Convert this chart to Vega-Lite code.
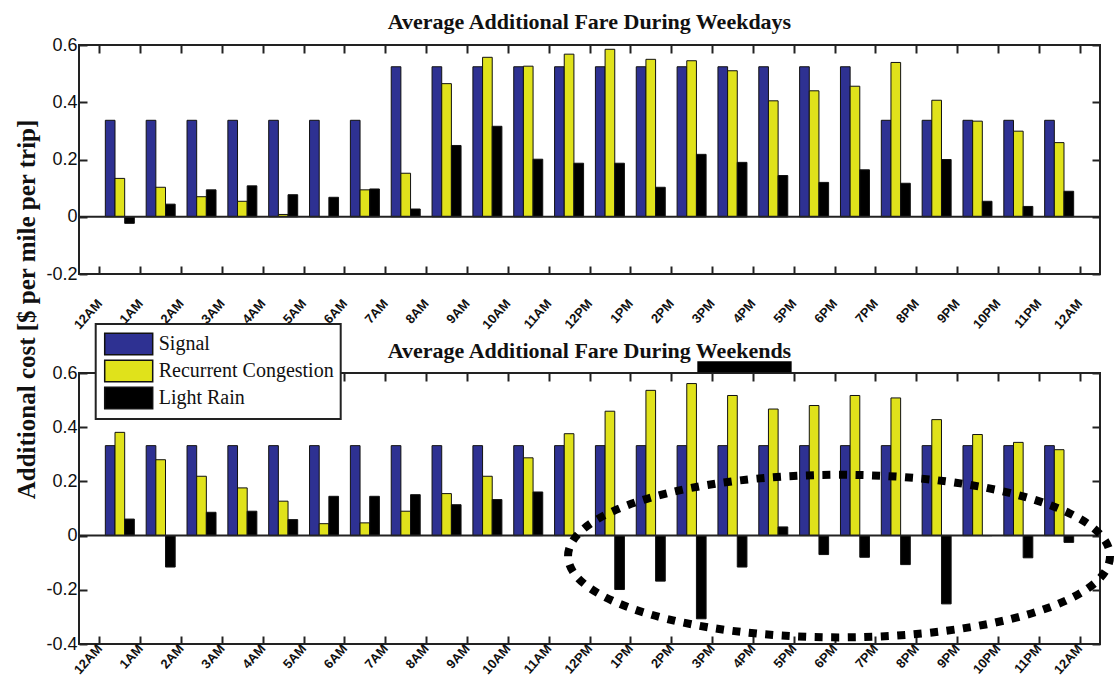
{
 "$schema": "https://vega.github.io/schema/vega-lite/v6.json",
 "background": "white",
 "padding": {"left": 12, "top": 10, "right": 0, "bottom": 0},
 "bounds": "flush",
 "spacing": 99,
 "config": {
  "view": {"stroke": "#222", "strokeWidth": 2},
  "axis": {"domain": false, "grid": false, "tickColor": "#222", "tickWidth": 2, "tickSize": 8, "offset": -8, "labelFont": "Liberation Sans", "labelColor": "#111", "titleFont": "Liberation Serif", "titleFontWeight": "bold", "titleFontSize": 25, "titleColor": "#111"},
  "title": {"font": "Liberation Serif", "fontSize": 22, "fontWeight": "bold", "color": "#111", "anchor": "middle", "frame": "group", "baseline": "alphabetic"},
  "legend": {"title": null, "orient": "none", "legendX": 16.7, "legendY": 279, "direction": "vertical", "fillColor": "white", "strokeColor": "#222", "strokeWidth": 2, "padding": 7, "symbolType": "M-2,-0.9H2V0.9H-2Z", "symbolSize": 576, "symbolOffset": 13, "symbolStrokeColor": "#111", "symbolStrokeWidth": 1.5, "symbolOpacity": 1, "labelFont": "Liberation Serif", "labelFontSize": 20, "labelColor": "#111", "labelOffset": 17, "rowPadding": -1, "labelLimit": 400}
 },
 "datasets": {
  "wd": [
   {"h":0,"s":"Signal","v":0.337},{"h":1,"s":"Signal","v":0.337},{"h":2,"s":"Signal","v":0.337},{"h":3,"s":"Signal","v":0.337},{"h":4,"s":"Signal","v":0.337},{"h":5,"s":"Signal","v":0.337},{"h":6,"s":"Signal","v":0.337},{"h":7,"s":"Signal","v":0.524},{"h":8,"s":"Signal","v":0.524},{"h":9,"s":"Signal","v":0.524},{"h":10,"s":"Signal","v":0.524},{"h":11,"s":"Signal","v":0.524},{"h":12,"s":"Signal","v":0.524},{"h":13,"s":"Signal","v":0.524},{"h":14,"s":"Signal","v":0.524},{"h":15,"s":"Signal","v":0.524},{"h":16,"s":"Signal","v":0.524},{"h":17,"s":"Signal","v":0.524},{"h":18,"s":"Signal","v":0.524},{"h":19,"s":"Signal","v":0.337},{"h":20,"s":"Signal","v":0.337},{"h":21,"s":"Signal","v":0.337},{"h":22,"s":"Signal","v":0.337},{"h":23,"s":"Signal","v":0.337},
   {"h":0,"s":"Recurrent Congestion","v":0.134},{"h":1,"s":"Recurrent Congestion","v":0.103},{"h":2,"s":"Recurrent Congestion","v":0.07},{"h":3,"s":"Recurrent Congestion","v":0.054},{"h":4,"s":"Recurrent Congestion","v":0.008},{"h":5,"s":"Recurrent Congestion","v":0},{"h":6,"s":"Recurrent Congestion","v":0.094},{"h":7,"s":"Recurrent Congestion","v":0.152},{"h":8,"s":"Recurrent Congestion","v":0.465},{"h":9,"s":"Recurrent Congestion","v":0.557},{"h":10,"s":"Recurrent Congestion","v":0.526},{"h":11,"s":"Recurrent Congestion","v":0.568},{"h":12,"s":"Recurrent Congestion","v":0.585},{"h":13,"s":"Recurrent Congestion","v":0.55},{"h":14,"s":"Recurrent Congestion","v":0.545},{"h":15,"s":"Recurrent Congestion","v":0.51},{"h":16,"s":"Recurrent Congestion","v":0.405},{"h":17,"s":"Recurrent Congestion","v":0.44},{"h":18,"s":"Recurrent Congestion","v":0.456},{"h":19,"s":"Recurrent Congestion","v":0.539},{"h":20,"s":"Recurrent Congestion","v":0.407},{"h":21,"s":"Recurrent Congestion","v":0.334},{"h":22,"s":"Recurrent Congestion","v":0.299},{"h":23,"s":"Recurrent Congestion","v":0.259},
   {"h":0,"s":"Light Rain","v":-0.023},{"h":1,"s":"Light Rain","v":0.044},{"h":2,"s":"Light Rain","v":0.094},{"h":3,"s":"Light Rain","v":0.108},{"h":4,"s":"Light Rain","v":0.077},{"h":5,"s":"Light Rain","v":0.068},{"h":6,"s":"Light Rain","v":0.097},{"h":7,"s":"Light Rain","v":0.027},{"h":8,"s":"Light Rain","v":0.249},{"h":9,"s":"Light Rain","v":0.316},{"h":10,"s":"Light Rain","v":0.201},{"h":11,"s":"Light Rain","v":0.187},{"h":12,"s":"Light Rain","v":0.187},{"h":13,"s":"Light Rain","v":0.103},{"h":14,"s":"Light Rain","v":0.218},{"h":15,"s":"Light Rain","v":0.19},{"h":16,"s":"Light Rain","v":0.144},{"h":17,"s":"Light Rain","v":0.12},{"h":18,"s":"Light Rain","v":0.164},{"h":19,"s":"Light Rain","v":0.117},{"h":20,"s":"Light Rain","v":0.2},{"h":21,"s":"Light Rain","v":0.054},{"h":22,"s":"Light Rain","v":0.036},{"h":23,"s":"Light Rain","v":0.089}
  ],
  "we": [
   {"h":0,"s":"Signal","v":0.332},{"h":1,"s":"Signal","v":0.332},{"h":2,"s":"Signal","v":0.332},{"h":3,"s":"Signal","v":0.332},{"h":4,"s":"Signal","v":0.332},{"h":5,"s":"Signal","v":0.332},{"h":6,"s":"Signal","v":0.332},{"h":7,"s":"Signal","v":0.332},{"h":8,"s":"Signal","v":0.332},{"h":9,"s":"Signal","v":0.332},{"h":10,"s":"Signal","v":0.332},{"h":11,"s":"Signal","v":0.332},{"h":12,"s":"Signal","v":0.332},{"h":13,"s":"Signal","v":0.332},{"h":14,"s":"Signal","v":0.332},{"h":15,"s":"Signal","v":0.332},{"h":16,"s":"Signal","v":0.332},{"h":17,"s":"Signal","v":0.332},{"h":18,"s":"Signal","v":0.332},{"h":19,"s":"Signal","v":0.332},{"h":20,"s":"Signal","v":0.332},{"h":21,"s":"Signal","v":0.332},{"h":22,"s":"Signal","v":0.332},{"h":23,"s":"Signal","v":0.332},
   {"h":0,"s":"Recurrent Congestion","v":0.381},{"h":1,"s":"Recurrent Congestion","v":0.28},{"h":2,"s":"Recurrent Congestion","v":0.219},{"h":3,"s":"Recurrent Congestion","v":0.176},{"h":4,"s":"Recurrent Congestion","v":0.127},{"h":5,"s":"Recurrent Congestion","v":0.044},{"h":6,"s":"Recurrent Congestion","v":0.047},{"h":7,"s":"Recurrent Congestion","v":0.09},{"h":8,"s":"Recurrent Congestion","v":0.155},{"h":9,"s":"Recurrent Congestion","v":0.219},{"h":10,"s":"Recurrent Congestion","v":0.287},{"h":11,"s":"Recurrent Congestion","v":0.376},{"h":12,"s":"Recurrent Congestion","v":0.459},{"h":13,"s":"Recurrent Congestion","v":0.536},{"h":14,"s":"Recurrent Congestion","v":0.561},{"h":15,"s":"Recurrent Congestion","v":0.517},{"h":16,"s":"Recurrent Congestion","v":0.467},{"h":17,"s":"Recurrent Congestion","v":0.48},{"h":18,"s":"Recurrent Congestion","v":0.517},{"h":19,"s":"Recurrent Congestion","v":0.508},{"h":20,"s":"Recurrent Congestion","v":0.428},{"h":21,"s":"Recurrent Congestion","v":0.373},{"h":22,"s":"Recurrent Congestion","v":0.344},{"h":23,"s":"Recurrent Congestion","v":0.317},
   {"h":0,"s":"Light Rain","v":0.061},{"h":1,"s":"Light Rain","v":-0.116},{"h":2,"s":"Light Rain","v":0.086},{"h":3,"s":"Light Rain","v":0.09},{"h":4,"s":"Light Rain","v":0.059},{"h":5,"s":"Light Rain","v":0.145},{"h":6,"s":"Light Rain","v":0.145},{"h":7,"s":"Light Rain","v":0.151},{"h":8,"s":"Light Rain","v":0.114},{"h":9,"s":"Light Rain","v":0.133},{"h":10,"s":"Light Rain","v":0.161},{"h":11,"s":"Light Rain","v":0},{"h":12,"s":"Light Rain","v":-0.199},{"h":13,"s":"Light Rain","v":-0.168},{"h":14,"s":"Light Rain","v":-0.307},{"h":15,"s":"Light Rain","v":-0.116},{"h":16,"s":"Light Rain","v":0.032},{"h":17,"s":"Light Rain","v":-0.07},{"h":18,"s":"Light Rain","v":-0.08},{"h":19,"s":"Light Rain","v":-0.107},{"h":20,"s":"Light Rain","v":-0.252},{"h":21,"s":"Light Rain","v":0},{"h":22,"s":"Light Rain","v":-0.082},{"h":23,"s":"Light Rain","v":-0.025}
  ]
 },
 "vconcat": [
  {
   "width": 1021, "height": 229,
   "title": {"text": "Average Additional Fare During Weekdays", "offset": 2},
   "data": {"name": "wd"},
   "resolve": {"scale": {"x": "independent", "y": "independent"}},
   "layer": [
    {
     "layer": [
      {
       "mark": {"type": "bar", "stroke": "#111", "strokeWidth": 1},
       "encoding": {
        "x": {"field": "h", "type": "ordinal", "scale": {"paddingInner": 0.29, "paddingOuter": 0.645}, "axis": null},
        "xOffset": {"field": "s", "type": "nominal", "sort": ["Signal", "Recurrent Congestion", "Light Rain"], "scale": {"paddingInner": 0, "paddingOuter": 0}},
        "y": {"field": "v", "type": "quantitative", "scale": {"domain": [-0.2, 0.6], "nice": false, "zero": false},
              "axis": {"orient": "left", "values": [-0.2, 0, 0.2, 0.4, 0.6], "labelExpr": "toString(datum.value)", "labelFontSize": 18, "labelPadding": 2, "title": "Additional cost [$ per mile per trip]", "titleX": -53, "titleY": 264, "titleAngle": -90, "titleBaseline": "alphabetic", "titleAlign": "center"}},
        "color": {"field": "s", "type": "nominal", "sort": ["Signal", "Recurrent Congestion", "Light Rain"], "scale": {"domain": ["Signal", "Recurrent Congestion", "Light Rain"], "range": ["#2E3192", "#E0E21B", "#000000"]}, "legend": {"values": ["Signal", "Recurrent Congestion", "Light Rain"]}}
       }
      },
      {"data": {"values": [{}]}, "mark": {"type": "rule", "color": "#222", "strokeWidth": 2}, "encoding": {"y": {"datum": 0, "type": "quantitative"}}}
     ]
    },
    {
     "mark": {"type": "point", "opacity": 0},
     "encoding": {
      "x": {"field": "h", "type": "quantitative", "scale": {"domain": [-0.5, 24.5], "nice": false, "zero": false},
            "axis": {"orient": "bottom", "values": [0,1,2,3,4,5,6,7,8,9,10,11,12,13,14,15,16,17,18,19,20,21,22,23,24], "labelExpr": "['12AM','1AM','2AM','3AM','4AM','5AM','6AM','7AM','8AM','9AM','10AM','11AM','12PM','1PM','2PM','3PM','4PM','5PM','6PM','7PM','8PM','9PM','10PM','11PM','12AM'][datum.value]", "labelAngle": -48, "labelAlign": "right", "labelBaseline": "middle", "labelFontSize": 13, "labelFontWeight": "bold", "labelPadding": 27, "title": null}},
      "y": {"field": "v", "type": "quantitative", "scale": {"domain": [-0.2, 0.6], "nice": false, "zero": false},
            "axis": {"orient": "right", "values": [-0.2, 0, 0.2, 0.4, 0.6], "labels": false, "title": null}}
     }
    },
    {
     "mark": {"type": "point", "opacity": 0},
     "encoding": {
      "x": {"field": "h", "type": "quantitative", "scale": {"domain": [-0.5, 24.5], "nice": false, "zero": false},
            "axis": {"orient": "top", "values": [0,1,2,3,4,5,6,7,8,9,10,11,12,13,14,15,16,17,18,19,20,21,22,23,24], "labels": false, "title": null}}
     }
    }
   ]
  },
  {
   "width": 1021, "height": 271,
   "title": {"text": "Average Additional Fare During Weekends", "offset": -2},
   "data": {"name": "we"},
   "resolve": {"scale": {"x": "independent", "y": "independent"}},
   "layer": [
    {
     "layer": [
      {
       "mark": {"type": "bar", "stroke": "#111", "strokeWidth": 1},
       "encoding": {
        "x": {"field": "h", "type": "ordinal", "scale": {"paddingInner": 0.29, "paddingOuter": 0.645}, "axis": null},
        "xOffset": {"field": "s", "type": "nominal", "sort": ["Signal", "Recurrent Congestion", "Light Rain"], "scale": {"paddingInner": 0, "paddingOuter": 0}},
        "y": {"field": "v", "type": "quantitative", "scale": {"domain": [-0.4, 0.6], "nice": false, "zero": false},
              "axis": {"orient": "left", "values": [-0.4, -0.2, 0, 0.2, 0.4, 0.6], "labelExpr": "toString(datum.value)", "labelFontSize": 18, "labelPadding": 2, "title": null}},
        "color": {"field": "s", "type": "nominal", "sort": ["Signal", "Recurrent Congestion", "Light Rain"], "scale": {"domain": ["Signal", "Recurrent Congestion", "Light Rain"], "range": ["#2E3192", "#E0E21B", "#000000"]}, "legend": {"values": ["Signal", "Recurrent Congestion", "Light Rain"]}}
       }
      },
      {"data": {"values": [{}]}, "mark": {"type": "rule", "color": "#222", "strokeWidth": 2}, "encoding": {"y": {"datum": 0, "type": "quantitative"}}}
     ]
    },
    {
     "layer": [
      {
       "mark": {"type": "point", "opacity": 0},
       "encoding": {
        "x": {"field": "h", "type": "quantitative", "scale": {"domain": [-0.5, 24.5], "nice": false, "zero": false},
              "axis": {"orient": "bottom", "values": [0,1,2,3,4,5,6,7,8,9,10,11,12,13,14,15,16,17,18,19,20,21,22,23,24], "labelExpr": "['12AM','1AM','2AM','3AM','4AM','5AM','6AM','7AM','8AM','9AM','10AM','11AM','12PM','1PM','2PM','3PM','4PM','5PM','6PM','7PM','8PM','9PM','10PM','11PM','12AM'][datum.value]", "labelAngle": -48, "labelAlign": "right", "labelBaseline": "middle", "labelFontSize": 13, "labelFontWeight": "bold", "labelPadding": 2, "title": null}},
        "y": {"field": "v", "type": "quantitative", "scale": {"domain": [-0.4, 0.6], "nice": false, "zero": false},
              "axis": {"orient": "right", "values": [-0.4, -0.2, 0, 0.2, 0.4, 0.6], "labels": false, "title": null}}
       }
      },
      {
       "data": {"values": [{}]},
       "mark": {"type": "rect", "color": "#000", "clip": false},
       "encoding": {"x": {"datum": 14.64, "type": "quantitative"}, "x2": {"datum": 16.95}, "y": {"datum": 0.643, "type": "quantitative"}, "y2": {"datum": 0.603}}
      },
      {
       "data": {"values": [{}]},
       "mark": {"type": "point", "shape": "M-1,0A1,0.3 0 1,1 1,0A1,0.3 0 1,1 -1,0Z", "size": 293764, "filled": false, "stroke": "#000", "strokeWidth": 8, "strokeDash": [8, 8.5], "opacity": 1, "clip": false},
       "encoding": {"x": {"datum": 18.11, "type": "quantitative"}, "y": {"datum": -0.0756, "type": "quantitative"}}
      }
     ]
    },
    {
     "mark": {"type": "point", "opacity": 0},
     "encoding": {
      "x": {"field": "h", "type": "quantitative", "scale": {"domain": [-0.5, 24.5], "nice": false, "zero": false},
            "axis": {"orient": "top", "values": [0,1,2,3,4,5,6,7,8,9,10,11,12,13,14,15,16,17,18,19,20,21,22,23,24], "labels": false, "title": null}}
     }
    }
   ]
  }
 ]
}
